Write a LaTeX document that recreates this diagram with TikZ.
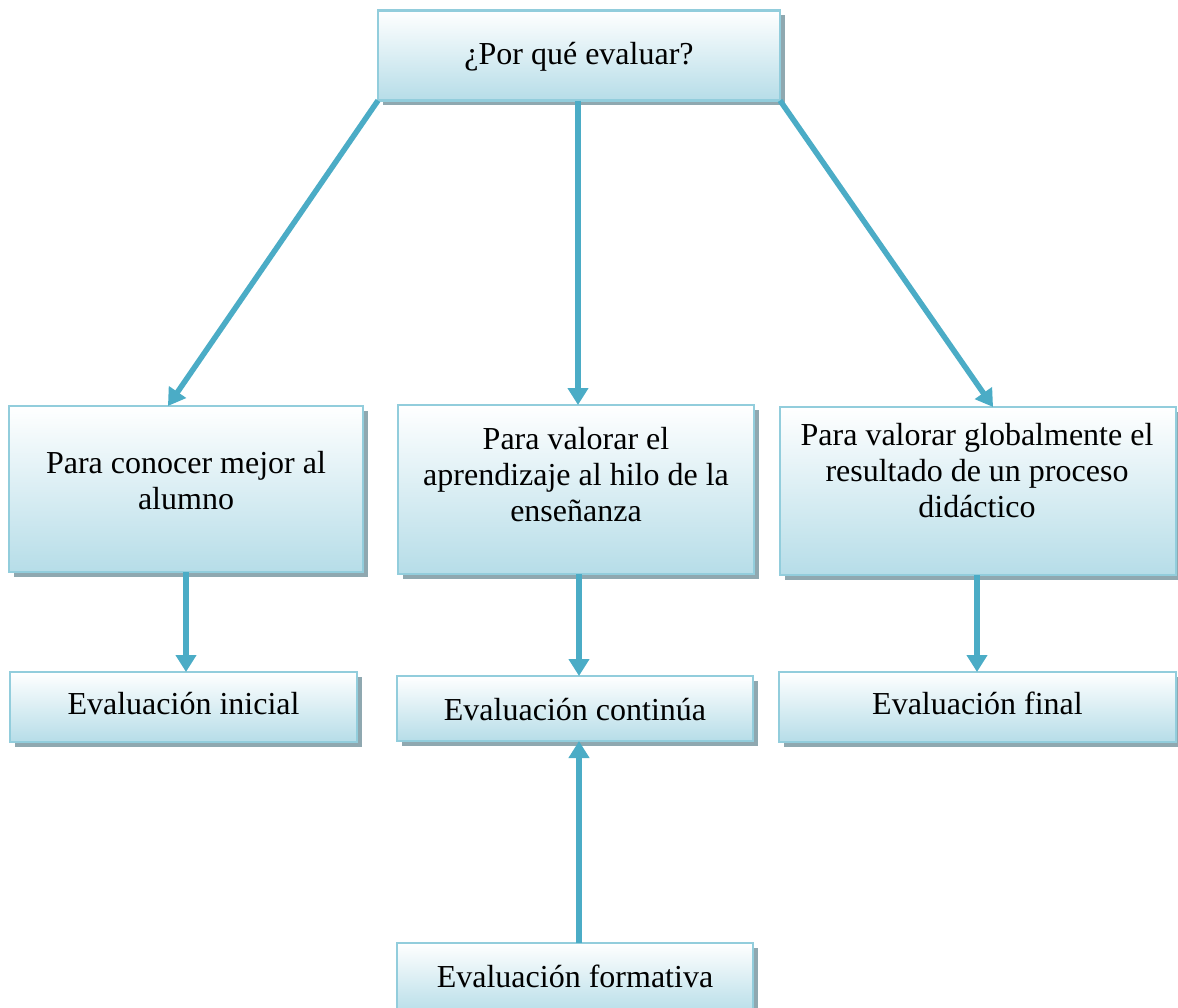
\documentclass[tikz,border=0pt]{standalone}
\usepackage{fontspec}
\setmainfont{Liberation Serif}
\usetikzlibrary{arrows.meta,shadows,calc}
\definecolor{arr}{RGB}{75,172,198}
\definecolor{bord}{RGB}{146,205,220}
\definecolor{fillb}{RGB}{182,221,232}
\definecolor{shad}{RGB}{143,168,176}
\begin{document}
\begin{tikzpicture}[x=1pt,y=-1pt,
  box/.style={draw=bord, line width=2.5pt, top color=white, bottom color=fillb,
    inner sep=0pt, outer sep=0pt,
    drop shadow={shadow xshift=4.5pt, shadow yshift=-4.5pt, fill=shad, opacity=1}},
  txt/.style={font=\fontsize{32}{36}\selectfont, align=center, inner sep=0pt},
  conn/.style={draw=arr, line width=5.5pt, -{Triangle[length=17pt,width=20pt]}}]
\useasboundingbox (0,0) rectangle (1178,1007);

% boxes
\node[box, minimum width=402pt, minimum height=90pt] (top) at (579,55.5) {};
\node[box, minimum width=354pt, minimum height=166pt] (A) at (186,489) {};
\node[box, minimum width=356pt, minimum height=169pt] (B) at (576,489.5) {};
\node[box, minimum width=396pt, minimum height=168pt] (C) at (978,491) {};
\node[box, minimum width=347pt, minimum height=70pt] (ini) at (183.5,707) {};
\node[box, minimum width=356pt, minimum height=65pt] (cont) at (575,708.5) {};
\node[box, minimum width=397pt, minimum height=70pt] (fin) at (977.5,707) {};
\node[box, minimum width=356pt, minimum height=72pt] (form) at (575,979) {};

% texts
\node[txt] (tTop) at (579,57) {¿Por qué evaluar?};
\node[txt] (tA) at (186,481) {Para conocer mejor al\\alumno};
\node[txt] (tB) at (576,475) {Para valorar el\\aprendizaje al hilo de la\\enseñanza};
\node[txt] (tC) at (977,471) {Para valorar globalmente el\\resultado de un proceso\\didáctico};
\node[txt] (tIni) at (183.5,704) {Evaluación inicial};
\node[txt] (tCont) at (575,710) {Evaluación continúa};
\node[txt] (tFin) at (977.5,703) {Evaluación final};
\node[txt] (tForm) at (575,976) {Evaluación formativa};

% anchor points for the vertical connectors
\coordinate (pB) at ($(top.south)+(-1,0)$);
\coordinate (pBc) at ($(B.south)+(3,0)$);
\coordinate (pC) at ($(C.south)+(-1,0)$);
\coordinate (pF) at ($(form.north)+(4,0)$);

% connectors
\draw[conn] (top.south west) -- ($(A.north west)!0.449!(A.north east)$);
\draw[conn] (pB) -- (pB |- B.north);
\draw[conn] (top.south east) -- ($(C.north west)!0.538!(C.north east)$);
\draw[conn] (A.south) -- (A.south |- ini.north);
\draw[conn] (pBc) -- (pBc |- cont.north);
\draw[conn] (pC) -- (pC |- fin.north);
\draw[conn] (pF) -- (pF |- cont.south);
\end{tikzpicture}
\end{document}
